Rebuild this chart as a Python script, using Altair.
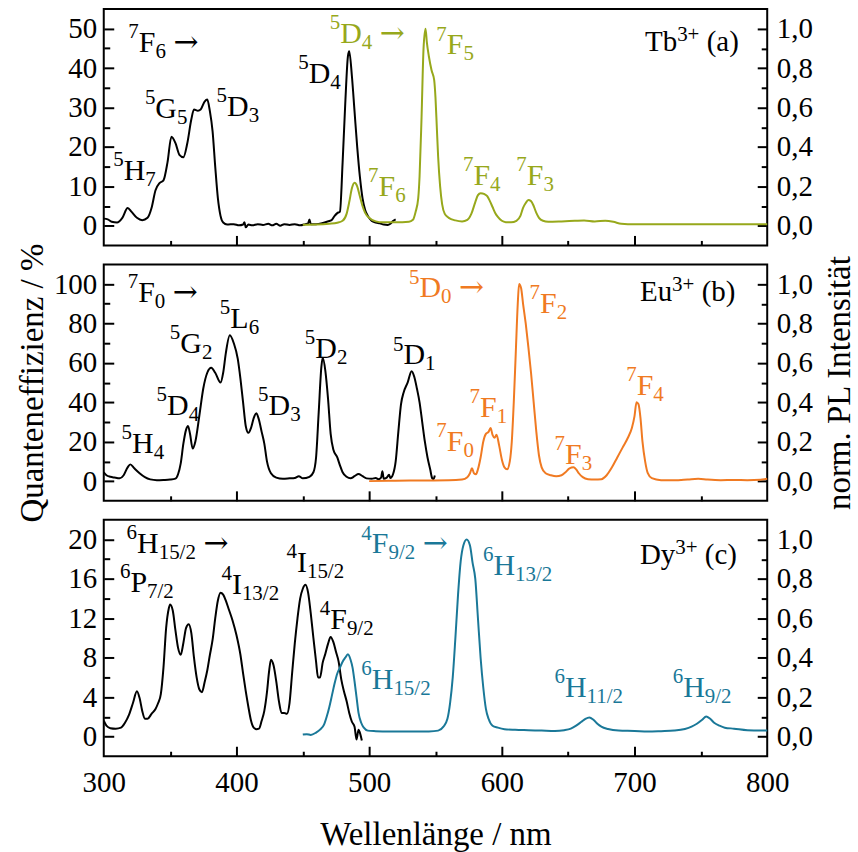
import altair as alt
import pandas as pd

# ---------------- Tb3+ ----------------
TB_EXC_NM = [300, 303, 306, 310, 314, 318, 321, 325, 329, 333, 336, 339, 342, 345, 348, 351, 354, 357, 360, 363,
             366, 368, 371, 373, 376, 378, 380, 382, 384, 386, 388, 390, 393, 398, 402, 405, 406, 407, 409, 412,
             416, 420, 424, 427, 430, 433, 436, 440, 444, 448, 452, 454, 455, 456, 460, 465, 468, 470, 472, 474,
             476, 478, 480, 482, 484, 485, 487, 489, 491, 493, 495, 497, 499, 502, 505, 508, 511, 514, 516, 518, 520]
TB_EXC_QE = [1.8, 1.6, 1.0, 0.8, 2.0, 4.5, 3.5, 2.0, 1.4, 2.0, 4.5, 9.0, 10.8, 11.5, 16.0, 22.6, 21.0, 18.0, 17.4, 21.0,
             27.0, 29.5, 29.2, 29.5, 31.5, 32.0, 29.0, 24.0, 15.0, 7.0, 2.5, 0.8, 0.3, 0.4, 0.1, 0.3, 0.9, -0.4, 0.3, 0.1,
             0.4, 0.2, 0.5, 0.1, 0.5, 0.0, 0.4, 0.2, 0.4, 0.1, 0.4, 0.6, 1.6, 0.4, 0.4, 0.7, 1.0, 1.2, 1.5, 2.5,
             3.2, 3.6, 16.0, 31.0, 43.0, 44.3, 38.0, 29.0, 20.0, 12.5, 7.0, 4.0, 2.5, 1.2, 0.8, 0.6, 0.3, 0.2, 0.5, 1.2, 1.6]
TB_EM_NM = [450, 460, 470, 476, 480, 483, 485, 487, 489, 491, 493, 495, 497, 500, 505, 510, 520, 530, 533, 535,
            537, 538, 539.5, 541, 542.5, 543.5, 545, 547, 549, 550, 551, 552, 553.5, 555, 557, 560, 565, 570, 574, 577,
            580, 582, 584, 587, 589, 591, 593, 595, 597, 600, 603, 607, 611, 614, 616, 618, 620, 622, 624, 626,
            628, 631, 635, 645, 655, 662, 670, 678, 684, 690, 700, 720, 740, 760, 780, 800]
TB_EM_PL = [0.005, 0.006, 0.01, 0.015, 0.025, 0.06, 0.12, 0.19, 0.218, 0.2, 0.15, 0.1, 0.065, 0.04, 0.022, 0.017, 0.017, 0.02, 0.03, 0.07,
            0.14, 0.25, 0.55, 0.9, 1.0, 0.93, 0.86, 0.79, 0.74, 0.65, 0.5, 0.35, 0.2, 0.11, 0.06, 0.04, 0.027, 0.022, 0.03, 0.06,
            0.12, 0.155, 0.165, 0.16, 0.15, 0.125, 0.095, 0.065, 0.045, 0.025, 0.018, 0.017, 0.025, 0.05, 0.09, 0.115, 0.13, 0.125, 0.1, 0.065,
            0.04, 0.025, 0.02, 0.022, 0.025, 0.027, 0.022, 0.025, 0.02, 0.01, 0.007, 0.008, 0.007, 0.008, 0.007, 0.008]

# ---------------- Eu3+ ----------------
EU_EXC_NM = [300, 302, 305, 308, 312, 315, 318, 320, 323, 327, 331, 335, 340, 345, 350, 354, 356, 358, 360, 362,
             363.5, 365, 367, 369, 372, 375, 378, 381, 384, 388, 390, 392, 395, 398, 401, 403, 405, 407, 409, 411,
             413, 415, 417, 419, 421, 423, 426, 430, 435, 440, 444, 447, 450, 455, 458, 460, 462, 464, 465, 467,
             469, 471, 473, 476, 478, 480, 483, 486, 489, 492, 495, 498, 502, 505, 507, 509, 510, 511, 513, 515,
             516, 518, 520, 522, 524, 526, 529, 532, 534, 536, 538, 540, 542, 544, 546, 547.5, 548.5, 549.5]
EU_EXC_QE = [4.5, 3.0, 2.2, 1.8, 1.4, 3.0, 7.0, 8.5, 6.5, 4.0, 2.0, 0.9, 0.5, 0.6, 0.8, 1.3, 3.5, 9.0, 19.0, 26.0,
             28.0, 24.0, 16.5, 20.0, 33.0, 47.0, 55.0, 57.5, 55.0, 50.0, 55.0, 65.0, 74.0, 70.0, 62.0, 52.0, 40.0, 28.0, 24.5, 27.0,
             32.0, 34.5, 31.0, 25.0, 19.0, 10.0, 4.0, 1.8, 1.2, 1.4, 1.6, 2.5, 1.4, 2.2, 4.5, 12.0, 35.0, 58.0, 62.6, 56.0,
             42.0, 24.0, 16.0, 12.0, 8.0, 4.5, 2.2, 1.4, 2.5, 3.6, 2.5, 1.4, 1.2, 1.6, 1.0, 1.8, 5.0, 1.2, 1.6, 3.2,
             1.6, 3.5, 10.0, 25.0, 39.0, 45.0, 50.0, 55.8, 53.0, 47.0, 40.0, 30.0, 20.0, 12.0, 6.0, 1.5, 1.0, 2.8]
EU_EM_NM = [500, 520, 540, 560, 570, 574, 576, 577.5, 579, 580.5, 582, 584, 586, 588, 590, 591.5, 593, 594.5, 596, 598,
            600, 602, 604, 606, 607.5, 609, 610.5, 612, 613, 614.5, 616, 618, 620, 622, 624, 626, 628, 630, 633, 637,
            641, 645, 648, 651, 654, 656, 658, 661, 665, 670, 675, 679, 683, 687, 691, 695, 698, 700, 701.5, 703,
            704.5, 706, 708, 710, 713, 720, 730, 740, 748, 755, 765, 775, 785, 795, 800]
EU_EM_PL = [0.0, 0.002, 0.003, 0.004, 0.008, 0.02, 0.04, 0.065, 0.04, 0.035, 0.06, 0.12, 0.2, 0.24, 0.25, 0.27, 0.235, 0.22, 0.235, 0.18,
            0.11, 0.07, 0.06, 0.1, 0.2, 0.4, 0.65, 0.9, 1.0, 0.98, 0.9, 0.8, 0.68, 0.55, 0.4, 0.25, 0.13, 0.07, 0.04, 0.03,
            0.025, 0.03, 0.045, 0.065, 0.07, 0.06, 0.04, 0.02, 0.01, 0.008, 0.01, 0.03, 0.07, 0.12, 0.17, 0.22, 0.27, 0.33, 0.4, 0.39,
            0.32, 0.2, 0.1, 0.04, 0.015, 0.005, 0.004, 0.008, 0.012, 0.008, 0.005, 0.006, 0.005, 0.007, 0.012]

# ---------------- Dy3+ ----------------
DY_EXC_NM = [300, 302, 305, 309, 313, 316, 319, 322, 325, 327, 329, 331, 333, 336, 339, 341, 343, 345, 347, 349,
             350, 352, 354, 356, 358, 360, 362, 364, 366, 368, 370, 372, 374, 376, 378, 380, 382, 384, 386, 388,
             390, 392, 394, 397, 400, 403, 405, 407, 409, 411, 413, 415, 417, 419, 421, 423, 424.5, 426, 428, 430,
             432, 434, 436, 438, 440, 442, 444, 446, 448, 450, 452, 454, 456, 458, 460, 461.5, 463, 465, 467, 469,
             471, 473, 475, 477, 479, 481, 483, 485, 487, 489, 490.5, 492, 493, 494.5]
DY_EXC_QE = [1.6, 1.1, 0.85, 0.8, 0.9, 1.4, 2.2, 3.4, 4.6, 3.9, 2.6, 1.8, 1.8, 2.3, 2.8, 3.4, 4.3, 7.0, 11.0, 13.0,
             13.4, 12.8, 10.8, 9.0, 8.3, 9.5, 11.0, 11.4, 10.5, 8.0, 6.0, 4.8, 4.5, 5.5, 6.7, 8.3, 9.8, 12.0, 13.8, 14.6,
             14.4, 13.8, 13.0, 11.8, 10.3, 8.3, 6.4, 4.6, 3.0, 1.6, 0.9, 0.75, 0.8, 1.6, 2.6, 4.5, 6.5, 7.8, 7.2, 5.6,
             3.6, 2.4, 2.4, 2.3, 3.4, 6.5, 9.5, 12.0, 14.0, 15.0, 15.4, 14.6, 12.5, 10.0, 7.6, 6.0, 6.0, 7.5, 8.4, 9.4,
             10.1, 9.6, 8.6, 7.6, 5.8, 4.6, 3.6, 2.4, 1.5, 1.0, -0.3, 0.7, 0.4, -0.4]
DY_EM_NM = [450, 453, 456, 460, 463, 466, 468, 470, 472, 474, 476, 478, 480, 482, 484, 486, 487.5, 489, 490.5, 492,
            494, 496, 499, 505, 515, 525, 535, 545, 552, 556, 559, 561, 563, 565, 567, 569, 571, 573.5, 576, 578,
            580, 582, 584, 586, 588, 590, 593, 597, 602, 610, 620, 630, 640, 647, 652, 656, 660, 663, 666, 669,
            672, 675, 680, 688, 700, 710, 720, 730, 738, 743, 747, 751, 754, 757, 760, 764, 768, 775, 785, 795, 800]
DY_EM_PL = [0.01, 0.012, 0.008, 0.02, 0.035, 0.06, 0.1, 0.15, 0.21, 0.27, 0.32, 0.35, 0.38, 0.4, 0.417, 0.39, 0.35, 0.28, 0.2, 0.12,
            0.07, 0.045, 0.03, 0.027, 0.025, 0.026, 0.025, 0.026, 0.03, 0.05, 0.09, 0.17, 0.3, 0.5, 0.72, 0.89, 0.97, 1.0, 0.97, 0.88,
            0.8, 0.6, 0.4, 0.25, 0.14, 0.09, 0.055, 0.045, 0.037, 0.034, 0.032, 0.03, 0.028, 0.032, 0.04, 0.055, 0.075, 0.09, 0.097, 0.085,
            0.065, 0.05, 0.038, 0.03, 0.028, 0.025, 0.027, 0.03, 0.038, 0.05, 0.065, 0.085, 0.102, 0.09, 0.07, 0.055, 0.045, 0.04, 0.032, 0.03, 0.03]

# Term-symbol annotations: (nm, value, superscript, letter, subscript, trailing arrow)
TB_EXC_LABELS = [(326.4, 44.2, "7", "F", "6", "→"), (315.0, 11.5, "5", "H", "7"), (338.9, 27.4, "5", "G", "5"),
                 (392.9, 27.8, "5", "D", "3"), (454.4, 36.2, "5", "D", "4")]
TB_EM_LABELS = [(478.2, 0.929, "5", "D", "4", "→"), (558.5, 0.869, "7", "F", "5"), (507.1, 0.149, "7", "F", "6"),
                (578.6, 0.208, "7", "F", "4"), (618.8, 0.208, "7", "F", "3")]
EU_EXC_LABELS = [(325.9, 90.7, "7", "F", "0", "→"), (321.3, 14.1, "5", "H", "4"), (347.7, 33.7, "5", "D", "4"),
                 (357.7, 65.2, "5", "G", "2"), (395.4, 77.9, "5", "L", "6"), (424.2, 33.7, "5", "D", "3"),
                 (459.4, 62.6, "5", "D", "2"), (525.9, 59.2, "5", "D", "1")]
EU_EM_LABELS = [(537.9, 0.932, "5", "D", "0", "→"), (628.8, 0.855, "7", "F", "2"), (583.6, 0.325, "7", "F", "1"),
                (558.5, 0.154, "7", "F", "0"), (647.6, 0.086, "7", "F", "3"), (701.6, 0.436, "7", "F", "4")]
DY_EXC_LABELS = [(325.1, 18.6, "6", "H", "15/2", "→"), (320.1, 14.7, "6", "P", "7/2"), (396.6, 14.5, "4", "I", "13/2"),
                 (445.6, 16.7, "4", "I", "15/2"), (470.7, 10.96, "4", "F", "9/2")]
DY_EM_LABELS = [(502.0, 0.929, "4", "F", "9/2", "→"), (502.0, 0.243, "6", "H", "15/2"), (593.7, 0.818, "6", "H", "13/2"),
                (647.6, 0.2, "6", "H", "11/2"), (736.7, 0.2, "6", "H", "9/2")]

# Ion tags: (nm, value, element, charge, panel letter)
TB_TAG = (707.9, 0.886, "Tb", "3+", "(a)")
EU_TAG = (704.1, 0.914, "Eu", "3+", "(b)")
DY_TAG = (704.1, 0.878, "Dy", "3+", "(c)")

TB_QE_DOMAIN, TB_QE_MAJOR, TB_QE_MINOR = [-5, 55], [0, 10, 20, 30, 40, 50], [5, 15, 25, 35, 45]
EU_QE_DOMAIN, EU_QE_MAJOR, EU_QE_MINOR = [-10, 110], [0, 20, 40, 60, 80, 100], [10, 30, 50, 70, 90]
DY_QE_DOMAIN, DY_QE_MAJOR, DY_QE_MINOR = [-2, 22], [0, 4, 8, 12, 16, 20], [2, 6, 10, 14, 18]
PL_DOMAIN, PL_MAJOR, PL_MINOR = [-0.1, 1.1], [0, 0.2, 0.4, 0.6, 0.8, 1.0], [0.1, 0.3, 0.5, 0.7, 0.9]
X_LABELS = [300, 400, 500, 600, 700, 800]
X_MAJOR, X_MINOR = [400, 500, 600, 700], [350, 450, 550, 650, 750]

GREEN, ORANGE, TEAL = "#97a81b", "#f07a22", "#1a7898"
FONT = "Liberation Serif"
ARROW_FONT = "DejaVu Serif"
W, H = 665, 237
PX_PER_NM = W / 500.0
BIG, SMALL, TAG = 30, 21, 29
TICK_FS, TITLE_FS = 29, 33
SUP_LIFT, SUB_DROP, TAG_SUP_LIFT = 14, 6, 10

# Times/Liberation Serif advance widths (em)
ADV = {"F": .556, "D": .722, "H": .722, "G": .722, "L": .611, "P": .556, "I": .333, "T": .611, "E": .611,
       "b": .5, "u": .5, "y": .5, "+": .564, "/": .278, " ": .25, "(": .333, ")": .333, "a": .444, "c": .444}


def text_w(s, size):
    return sum(ADV.get(ch, 0.5) for ch in s) * size


def label_rows(specs, color, unit_px):
    """Split each term symbol into superscript, letter, subscript; arrows go to a separate list."""
    rows, arrows = [], []
    for spec in specs:
        nm, val, sup, main, sub = spec[:5]
        tail = spec[5] if len(spec) > 5 else ""

        def put(target, text, dx, lift, size):
            target.append({"nm": nm + dx / PX_PER_NM, "v": val + lift / unit_px, "t": text, "s": size, "c": color})

        put(rows, sup, -text_w(sup, SMALL), SUP_LIFT, SMALL)
        put(rows, main, 0, 0, BIG)
        mw = text_w(main, BIG)
        if sub:
            put(rows, sub, mw, -SUB_DROP, SMALL)
        if tail:
            put(arrows, tail, mw + text_w(sub, SMALL) + text_w(" ", BIG), 0, BIG)
    return rows, arrows


def tag_rows(spec, unit_px):
    nm, val, elem, charge, letter = spec
    rows = []

    def put(text, dx, lift, size):
        rows.append({"nm": nm + dx / PX_PER_NM, "v": val + lift / unit_px, "t": text, "s": size, "c": "black"})

    ew = text_w(elem, TAG)
    put(elem, 0, 0, TAG)
    put(charge, ew, TAG_SUP_LIFT, SMALL)
    put(letter, ew + text_w(charge, SMALL) + text_w(" ", TAG), 0, TAG)
    return rows


def sc(domain):
    return alt.Scale(domain=domain, nice=False, zero=False)


def tick_axis(orient, offset, values, size):
    return alt.Axis(orient=orient, offset=offset, values=values, labels=False, ticks=True, tickSize=size,
                    tickWidth=2, tickColor="black", domain=False, grid=False, title=None)


def text_layer(rows, yscale, font=FONT):
    return alt.Chart(pd.DataFrame(rows)).mark_text(font=font, align="left", baseline="alphabetic").encode(
        x=alt.X("nm:Q", scale=sc([300, 800]), axis=None),
        y=alt.Y("v:Q", scale=yscale, axis=None),
        text="t:N",
        size=alt.Size("s:Q", scale=None, legend=None),
        color=alt.Color("c:N", scale=None, legend=None),
    )


AXIS_FONT = dict(labelFont=FONT, labelFontSize=TICK_FS, labelColor="black",
                 titleFont=FONT, titleFontSize=TITLE_FS, titleFontWeight="normal", titleColor="black")


def panel(exc_nm, exc_qe, em_nm, em_pl, color, qe_dom, qe_major, qe_minor,
          exc_labels, em_labels, tag, bottom=False, titles=False):
    exc = pd.DataFrame({"nm": exc_nm, "v": exc_qe})
    em = pd.DataFrame({"nm": em_nm, "v": em_pl})
    xs = sc([300, 800])
    qs = sc(qe_dom)
    ps = sc(PL_DOMAIN)

    x_axis = None
    if bottom:
        x_axis = alt.Axis(orient="bottom", values=X_LABELS, format="d", ticks=False, tickSize=0, domain=False,
                          grid=False, labelPadding=12, labelFlush=False, title="Wellenlänge / nm",
                          titlePadding=21, **AXIS_FONT)
    qe_axis = alt.Axis(orient="left", values=qe_major, format="d", ticks=False, tickSize=0, domain=False, grid=False,
                       labelPadding=7, title="Quanteneffizienz / %" if titles else None, titlePadding=4,
                       **AXIS_FONT)
    pl_axis = alt.Axis(orient="right", values=PL_MAJOR, ticks=False, tickSize=0, domain=False, grid=False,
                       labelPadding=9, labelExpr="replace(format(datum.value, '.1f'), '.', ',')",
                       title="norm. PL Intensität" if titles else None, titleAngle=270, titleBaseline="top",
                       titlePadding=11, **AXIS_FONT)

    exc_line = alt.Chart(exc).mark_line(color="black", strokeWidth=2, interpolate="monotone").encode(
        x=alt.X("nm:Q", scale=xs, axis=x_axis), y=alt.Y("v:Q", scale=qs, axis=qe_axis))
    qe_major_ticks = alt.Chart(exc).mark_line(strokeOpacity=0).encode(
        x=alt.X("nm:Q", scale=xs, axis=tick_axis("top", -H, X_MAJOR, 10)),
        y=alt.Y("v:Q", scale=qs, axis=tick_axis("right", -W, qe_major, 10)))
    qe_minor_ticks = alt.Chart(exc).mark_line(strokeOpacity=0).encode(
        x=alt.X("nm:Q", scale=xs, axis=tick_axis("top", -H, X_MINOR, 5)),
        y=alt.Y("v:Q", scale=qs, axis=tick_axis("right", -W, qe_minor, 6)))
    em_line = alt.Chart(em).mark_line(color=color, strokeWidth=2, interpolate="monotone").encode(
        x=alt.X("nm:Q", scale=xs, axis=None), y=alt.Y("v:Q", scale=ps, axis=pl_axis))
    pl_major_ticks = alt.Chart(em).mark_line(strokeOpacity=0).encode(
        x=alt.X("nm:Q", scale=xs, axis=None),
        y=alt.Y("v:Q", scale=ps, axis=tick_axis("left", -W, PL_MAJOR, 10)))
    pl_minor_ticks = alt.Chart(em).mark_line(strokeOpacity=0).encode(
        x=alt.X("nm:Q", scale=xs, axis=None),
        y=alt.Y("v:Q", scale=ps, axis=tick_axis("left", -W, PL_MINOR, 6)))

    qe_unit = H / (qe_dom[1] - qe_dom[0])
    pl_unit = H / (PL_DOMAIN[1] - PL_DOMAIN[0])
    exc_rows, exc_arrows = label_rows(exc_labels, "black", qe_unit)
    em_rows, em_arrows = label_rows(em_labels, color, pl_unit)
    layers = [exc_line, qe_major_ticks, qe_minor_ticks, em_line, pl_major_ticks, pl_minor_ticks,
              text_layer(exc_rows, qs), text_layer(em_rows + tag_rows(tag, pl_unit), ps),
              text_layer(exc_arrows, qs, ARROW_FONT), text_layer(em_arrows, ps, ARROW_FONT)]
    return alt.layer(*layers).resolve_scale(x="independent", y="independent").properties(width=W, height=H)


pa = panel(TB_EXC_NM, TB_EXC_QE, TB_EM_NM, TB_EM_PL, GREEN, TB_QE_DOMAIN, TB_QE_MAJOR, TB_QE_MINOR,
           TB_EXC_LABELS, TB_EM_LABELS, TB_TAG)
pb = panel(EU_EXC_NM, EU_EXC_QE, EU_EM_NM, EU_EM_PL, ORANGE, EU_QE_DOMAIN, EU_QE_MAJOR, EU_QE_MINOR,
           EU_EXC_LABELS, EU_EM_LABELS, EU_TAG, titles=True)
pc = panel(DY_EXC_NM, DY_EXC_QE, DY_EM_NM, DY_EM_PL, TEAL, DY_QE_DOMAIN, DY_QE_MAJOR, DY_QE_MINOR,
           DY_EXC_LABELS, DY_EM_LABELS, DY_TAG, bottom=True)

chart = alt.vconcat(pa, pb, pc, spacing=19, bounds="flush").properties(
    padding={"left": 15, "top": 7, "right": 0, "bottom": 0}
).configure_view(stroke="black", strokeWidth=2)

chart.save("out.html", embed_options={"renderer": "svg", "actions": False})
